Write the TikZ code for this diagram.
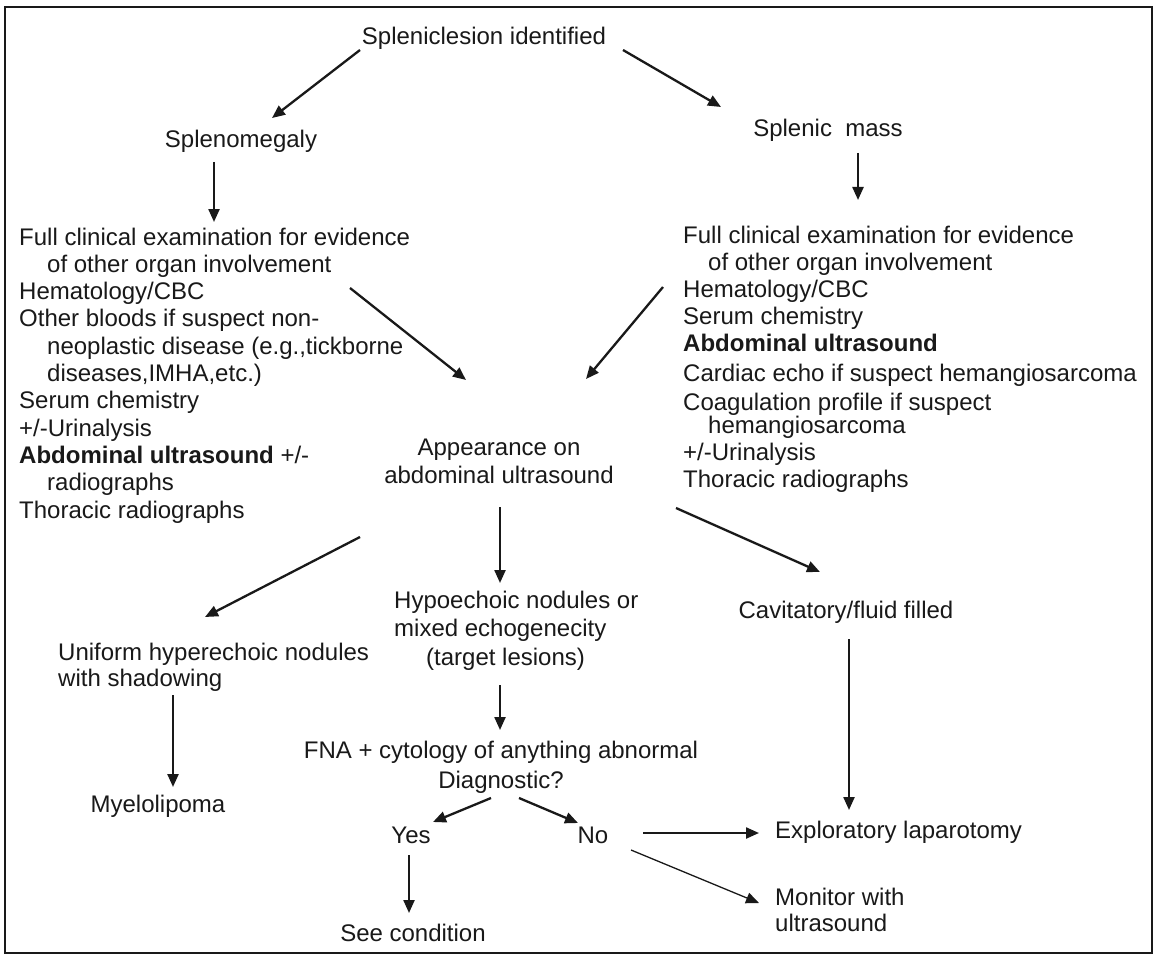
\documentclass[tikz,border=0pt]{standalone}
\usepackage{fontspec}
\setmainfont{Liberation Sans}
\usetikzlibrary{arrows.meta}
\definecolor{ChartInk}{RGB}{25,25,25}

\begin{document}
\begin{tikzpicture}[
  x=1pt, y=-1pt,
  flowtext/.style={
    inner sep=0pt,
    font=\fontsize{24}{27}\selectfont,
    text=ChartInk,
    anchor=base
  },
  flowlist/.style={
    flowtext,
    align=left,
    anchor=base west
  },
  flowarrow/.style={
    draw=ChartInk,
    line width=2.3pt,
    -{Triangle[length=13pt,width=11pt]}
  },
  thinarrow/.style={
    flowarrow,
    line width=1.3pt
  }
]
\fill[white] (0,0) rectangle (1158,960);
\useasboundingbox (0,0) rectangle (1158,960);
\draw[ChartInk, line width=1.8pt] (5,7) rectangle (1152,953);

% top of the chart
\node[flowtext] (top) at (484,45) {Spleniclesion identified};
\node[flowtext] (splenomegaly) at (241,148) {Splenomegaly};
\node[flowtext] (splenicmass) at (828,137) {Splenic~~mass};

% work-up lists (placed at the baseline of their last line)
\node[flowlist, font=\fontsize{24}{27.3}\selectfont] (leftwork) at (19,518) {%
  Full clinical examination for evidence\\
  \hspace*{28pt}of other organ involvement\\
  Hematology/CBC\\
  Other bloods if suspect non-\\
  \hspace*{28pt}neoplastic disease (e.g.,tickborne\\
  \hspace*{28pt}diseases,IMHA,etc.)\\
  Serum chemistry\\
  +/-Urinalysis\\
  \textbf{Abdominal ultrasound} +/-\\
  \hspace*{28pt}radiographs\\
  Thoracic radiographs};
\node[flowlist] (rightwork) at (683,487) {%
  Full clinical examination for evidence\\
  \hspace*{25pt}of other organ involvement\\
  Hematology/CBC\\
  Serum chemistry\\
  \textbf{Abdominal ultrasound}\\[3pt]
  Cardiac echo if suspect hemangiosarcoma\\[2pt]
  Coagulation profile if suspect\\[-4pt]
  \hspace*{25pt}hemangiosarcoma\\
  +/-Urinalysis\\
  Thoracic radiographs};

% ultrasound findings
\node[flowtext, align=center, font=\fontsize{24}{28}\selectfont] (appearance) at (499,483) {Appearance on\\abdominal ultrasound};
\node[flowlist, font=\fontsize{24}{26}\selectfont] (uniform) at (58,686) {Uniform hyperechoic nodules\\with shadowing};
\node[flowlist, font=\fontsize{24}{28.5}\selectfont] (hypoechoic) at (394,665) {Hypoechoic nodules or\\mixed echogenecity\\\hspace*{32pt}(target lesions)};
\node[flowtext] (cavitatory) at (846,618) {Cavitatory/fluid filled};
\node[flowtext] (myelolipoma) at (158,812) {Myelolipoma};

% cytology and outcomes
\node[flowtext, align=center, font=\fontsize{24}{30}\selectfont] (fna) at (501,788) {FNA + cytology of anything abnormal\\Diagnostic?};
\node[flowtext] (yes) at (411,843) {Yes};
\node[flowtext] (no) at (593,843) {No};
\node[flowtext] (seecondition) at (413,941) {See condition};
\node[flowlist] (laparotomy) at (775,838) {Exploratory laparotomy};
\node[flowlist, font=\fontsize{24}{26}\selectfont] (monitor) at (775,931) {Monitor with\\ultrasound};

% connectors
\draw[flowarrow] ([shift={(-124,5)}]top.base) -- ([shift={(31,-30)}]splenomegaly.base);
\draw[flowarrow] ([shift={(139,5)}]top.base) -- ([shift={(-107,-30)}]splenicmass.base);
\draw[flowarrow] ([shift={(-27,14)}]splenomegaly.base) -- ([shift={(195,-296)}]leftwork.base west);
\draw[flowarrow] ([shift={(30,16)}]splenicmass.base) -- ([shift={(175,-287)}]rightwork.base west);
\draw[flowarrow] ([shift={(331,-230)}]leftwork.base west) -- ([shift={(-33,-103)}]appearance.base);
\draw[flowarrow] ([shift={(-20,-200)}]rightwork.base west) -- ([shift={(87,-104)}]appearance.base);
\draw[flowarrow] ([shift={(-139,54)}]appearance.base) -- ([shift={(147,-69)}]uniform.base west);
\draw[flowarrow] ([shift={(1,24)}]appearance.base) -- ([shift={(106,-82)}]hypoechoic.base west);
\draw[flowarrow] ([shift={(177,25)}]appearance.base) -- ([shift={(-26,-46)}]cavitatory.base);
\draw[flowarrow] ([shift={(115,9)}]uniform.base west) -- ([shift={(15,-25)}]myelolipoma.base);
\draw[flowarrow] ([shift={(106,20)}]hypoechoic.base west) -- ([shift={(-1,-58)}]fna.base);
\draw[flowarrow] ([shift={(3,21)}]cavitatory.base) -- ([shift={(74,-28)}]laparotomy.base west);
\draw[flowarrow] ([shift={(-10,10)}]fna.base) -- ([shift={(22,-21)}]yes.base);
\draw[flowarrow] ([shift={(18,10)}]fna.base) -- ([shift={(-15,-20)}]no.base);
\draw[flowarrow] ([shift={(-2,12)}]yes.base) -- ([shift={(-4,-28)}]seecondition.base);
\draw[flowarrow] ([shift={(50,-10)}]no.base) -- ([shift={(-16,-5)}]laparotomy.base west);
\draw[thinarrow] ([shift={(38,7)}]no.base) -- ([shift={(-16,-28)}]monitor.base west);
\end{tikzpicture}
\end{document}
